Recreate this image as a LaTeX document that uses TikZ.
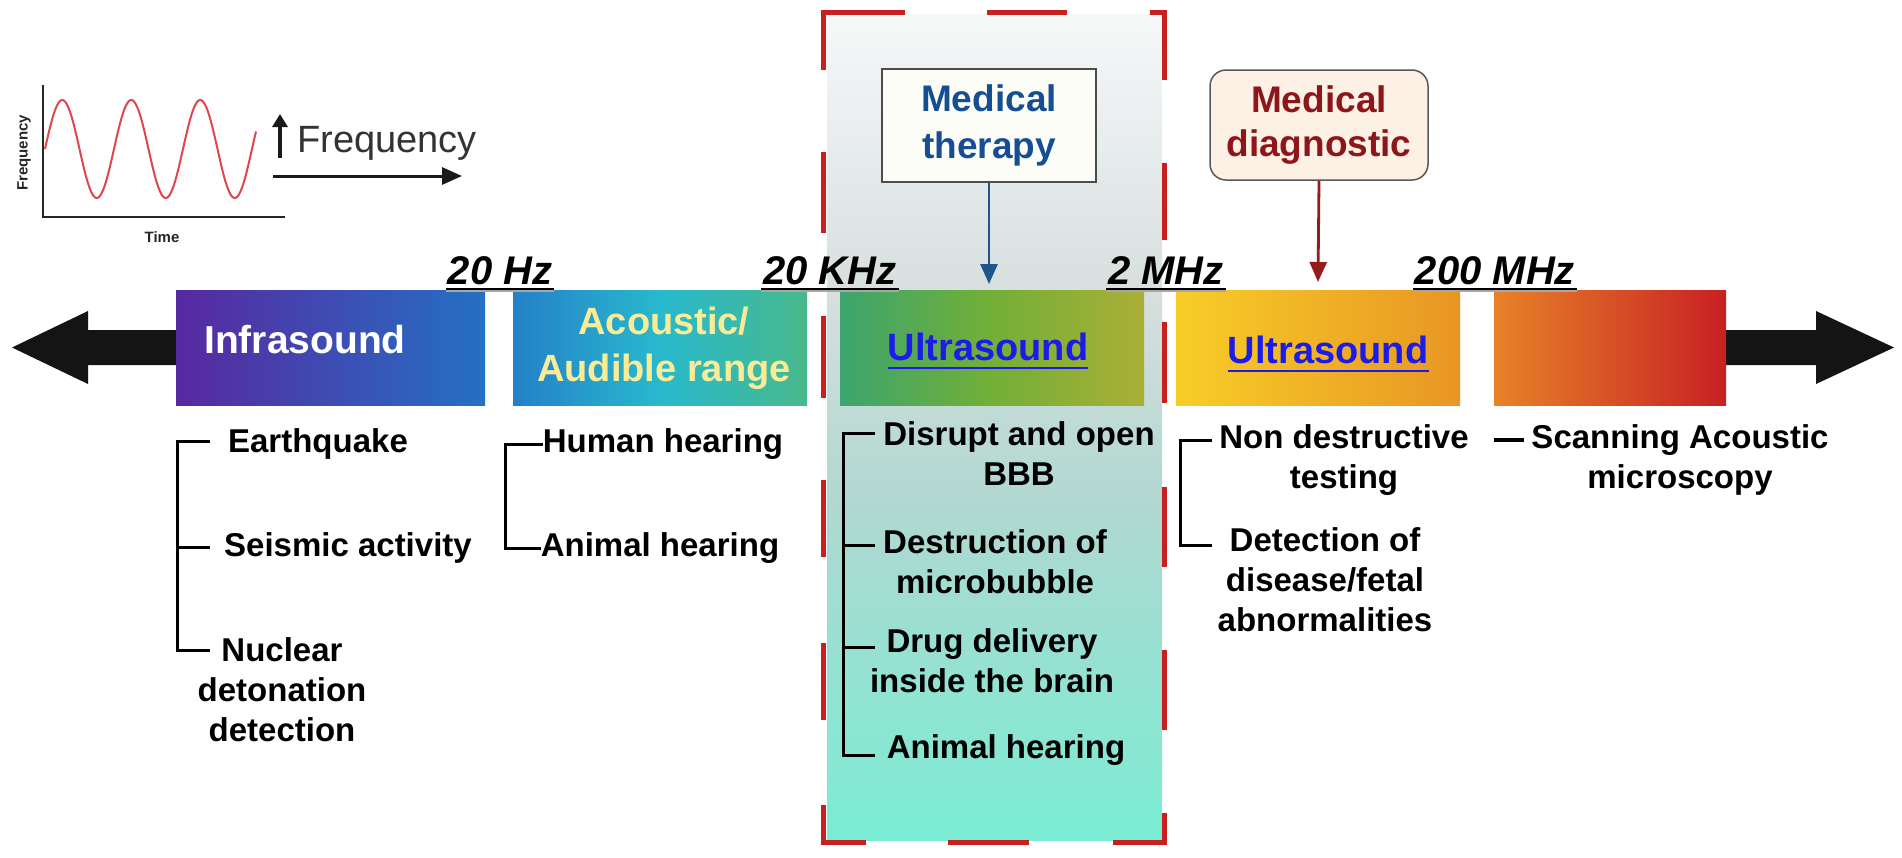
\documentclass[tikz,border=0pt]{standalone}
\usepackage{fontspec}
\setmainfont{Liberation Sans}
\usetikzlibrary{arrows.meta,calc}

\definecolor{infL}{RGB}{88,40,160}
\definecolor{infR}{RGB}{36,112,196}
\definecolor{acL}{RGB}{36,128,200}
\definecolor{acM}{RGB}{40,185,205}
\definecolor{acR}{RGB}{72,185,140}
\definecolor{usaL}{RGB}{60,165,110}
\definecolor{usaM}{RGB}{115,175,55}
\definecolor{usaR}{RGB}{170,175,55}
\definecolor{usbL}{RGB}{248,205,40}
\definecolor{usbR}{RGB}{232,150,35}
\definecolor{hfL}{RGB}{232,130,40}
\definecolor{hfR}{RGB}{200,32,35}
\definecolor{acyel}{RGB}{250,235,150}
\definecolor{linkblue}{RGB}{28,28,232}
\definecolor{thblue}{RGB}{22,78,148}
\definecolor{tharr}{RGB}{30,85,140}
\definecolor{thfill}{RGB}{253,253,247}
\definecolor{dgred}{RGB}{140,22,25}
\definecolor{dgarr}{RGB}{150,28,28}
\definecolor{dgfill}{RGB}{253,240,228}
\definecolor{dashred}{RGB}{200,32,30}
\definecolor{sinered}{RGB}{222,70,80}
\definecolor{ftop}{RGB}{246,248,248}
\definecolor{fmidb}{RGB}{214,222,222}
\definecolor{fmida}{RGB}{175,216,208}
\definecolor{fbot}{RGB}{122,236,212}

\begin{document}
\begin{tikzpicture}[x=1pt,y=-1pt,
  bar/.style={minimum height=115pt, inner sep=0pt, draw=none},
  barlbl/.style={font=\bfseries\fontsize{38}{47}\selectfont, align=center, inner sep=0pt},
  link/.style={font=\bfseries\fontsize{38}{46}\selectfont, text=linkblue, inner sep=0pt, text depth=0pt},
  linkline/.style={line width=2.5pt, draw=linkblue},
  body/.style={font=\bfseries\fontsize{33}{40}\selectfont, align=center, inner sep=0pt, text=black},
  brk/.style={line width=3pt, draw=black, line cap=butt},
  freqlbl/.style={font=\bfseries\itshape\fontsize{40}{40}\selectfont, inner xsep=2pt, inner ysep=4pt, text depth=0pt, anchor=south},
  uline/.style={line width=2.5pt, draw=black},
  ushadow/.style={line width=1.5pt, draw=black!35},
  reddash/.style={line width=5pt, draw=dashred, line join=miter},
  bigarrow/.style={fill=black!92},
  thbox/.style={draw=black!70, line width=1.5pt, fill=thfill, minimum width=214pt, minimum height=113pt, font=\bfseries\fontsize{37}{47}\selectfont, text=thblue, align=center, inner sep=0pt},
  dgbox/.style={draw=black!65, line width=1.5pt, fill=dgfill, rounded corners=16pt, minimum width=218pt, minimum height=110pt, font=\bfseries\fontsize{37}{44}\selectfont, text=dgred, align=center, inner sep=0pt},
  tharrow/.style={line width=2.8pt, draw=tharr, -{Triangle[length=20pt,width=17pt]}},
  dgarrow/.style={line width=2.8pt, draw=dgarr, -{Triangle[length=20pt,width=17pt]}},
  tiny/.style={font=\bfseries\fontsize{15}{15}\selectfont, inner sep=0pt, text=black!85}
]
\useasboundingbox (0,0) rectangle (1902,857);
\fill[white] (0,0) rectangle (1902,857);

% therapy region background
\shade[top color=ftop, bottom color=fmidb] (827,14) rectangle (1162,301);
\shade[top color=fmidb, bottom color=fmida] (827,300) rectangle (1162,511);
\shade[top color=fmida, bottom color=fbot] (827,510) rectangle (1162,840);

% small frequency graph
\draw[line width=2.2pt, black!85] (43,85) -- (43,217) -- (285,217);
\draw[line width=2pt, sinered, domain=45:256, samples=160, smooth] plot (\x, {149 - 49*sin(5.2174*(\x-45))});
\node[tiny, rotate=90] (gy) at (24,153) {Frequency};
\node[tiny] (gx) at (162,237) {Time};
\coordinate (upA) at (280,158);
\coordinate (upB) at (280,114);
\draw[line width=4pt, black!90, -{Triangle[length=13pt,width=15pt]}] (upA) -- (upB);
\node[font=\fontsize{38}{38}\selectfont, text=black!80, anchor=west, inner sep=0pt] (fq) at (297,143) {Frequency};
\coordinate (hA) at (273,176);
\coordinate (hB) at (462,176);
\draw[line width=3pt, black!90, -{Triangle[length=20pt,width=17pt]}] (hA) -- (hB);

% big arrows
\fill[bigarrow] (177,330) -- (88,330) -- (88,311) -- (12,347.5) -- (88,384) -- (88,365) -- (177,365) -- cycle;
\fill[bigarrow] (1725,330) -- (1816,330) -- (1816,311) -- (1894,347.5) -- (1816,384) -- (1816,365) -- (1725,365) -- cycle;

% bars
\node[bar, minimum width=309pt, left color=infL, right color=infR] (binf) at (330.5,347.5) {};
\node[bar, minimum width=294pt, left color=acL, right color=acR, middle color=acM] (bac) at (660,347.5) {};
\node[bar, minimum width=304pt, left color=usaL, right color=usaR, middle color=usaM] (busa) at (992,347.5) {};
\node[bar, minimum width=284pt, left color=usbL, right color=usbR] (busb) at (1318,347.5) {};
\node[bar, minimum width=232pt, left color=hfL, right color=hfR] (bhf) at (1610,347.5) {};

\node[barlbl, text=white, font=\bfseries\fontsize{39}{47}\selectfont] (tinf) at (305,340) {Infrasound};
\node[barlbl, text=acyel] (tac) at (664,348) {Acoustic/\\Audible range};
\node[link] (tusa) at (988,347) {Ultrasound};
\node[link] (tusb) at (1328,350) {Ultrasound};
\draw[linkline] ([yshift=-7pt]tusa.south west) -- ([yshift=-7pt]tusa.south east);
\draw[linkline] ([yshift=-7pt]tusb.south west) -- ([yshift=-7pt]tusb.south east);

% frequency limits
\node[freqlbl] (f1) at (500,289) {20 Hz};
\node[freqlbl] (f2) at (830,289) {20 KHz};
\node[freqlbl] (f3) at (1166,289) {2 MHz};
\node[freqlbl] (f4) at (1495,289) {200 MHz};
\foreach \f in {f1,f2,f3,f4}{
  \draw[ushadow] ([yshift=-2pt]\f.south west) -- ([yshift=-2pt]\f.south east);
  \draw[uline] (\f.south west) -- (\f.south east);
}

% red dashed frame
\draw[reddash] (823,70) -- (823,12) -- (905,12);
\draw[reddash] (987,12) -- (1067,12);
\draw[reddash] (1150,12) -- (1164,12) -- (1164,80);
\draw[reddash] (823,152) -- (823,233);
\draw[reddash] (823,316) -- (823,398);
\draw[reddash] (823,480) -- (823,557);
\draw[reddash] (823,643) -- (823,720);
\draw[reddash] (823,805) -- (823,842) -- (866,842);
\draw[reddash] (948,842) -- (1029,842);
\draw[reddash] (1113,842) -- (1164,842) -- (1164,813);
\draw[reddash] (1164,163) -- (1164,240);
\draw[reddash] (1164,322) -- (1164,403);
\draw[reddash] (1164,487) -- (1164,567);
\draw[reddash] (1164,650) -- (1164,730);

% medical boxes
\node[thbox] (mth) at (989,125.5) {Medical\\therapy};
\coordinate (mthT) at (989,284);
\draw[tharrow] (mth.south) -- (mthT);
\node[dgbox] (mdg) at (1319,125) {Medical\\diagnostic};
\coordinate (mdgT) at (1318,282);
\draw[dgarrow] (mdg.south) -- (mdgT);

% infrasound items
\node[body] (eq) at (318,444) {Earthquake};
\node[body] (se) at (348,548) {Seismic activity};
\node[body] (nu) at (282,690) {Nuclear\\detonation\\detection};
\coordinate (iS) at (177,0);
\coordinate (i1) at (210,441);
\coordinate (i2) at (210,547);
\coordinate (i3) at (210,650);
\draw[brk] (i1) -- (i1 -| iS) -- (i3 -| iS) -- (i3);
\draw[brk] (i2 -| iS) -- (i2);

% acoustic items
\node[body] (hh) at (663,444) {Human hearing};
\node[body] (ah) at (660,548) {Animal hearing};
\coordinate (aS) at (505,0);
\draw[brk] (hh.west) -- (hh.west -| aS) -- (ah.west -| aS) -- (ah.west);

% therapy items
\node[body] (d1) at (1019,454) {Disrupt and open\\BBB};
\node[body] (d2) at (995,562) {Destruction of\\microbubble};
\node[body] (d3) at (992,661) {Drug delivery\\inside the brain};
\node[body] (d4) at (1006,750) {Animal hearing};
\coordinate (tS) at (843,0);
\coordinate (t1) at (875,433);
\coordinate (t2) at (875,545);
\coordinate (t3) at (875,647);
\coordinate (t4) at (875,755);
\draw[brk] (t1) -- (t1 -| tS) -- (t4 -| tS) -- (t4);
\draw[brk] (t2 -| tS) -- (t2);
\draw[brk] (t3 -| tS) -- (t3);

% diagnostic items
\node[body] (nd) at (1344,460) {Non destructive\\testing};
\node[body] (dd) at (1325,580) {Detection of\\disease/fetal\\abnormalities};
\coordinate (gS) at (1180,0);
\coordinate (g1) at (1212,440);
\coordinate (g2) at (1212,545);
\draw[brk] (g1) -- (g1 -| gS) -- (g2 -| gS) -- (g2);

% high-frequency items
\node[body] (sc) at (1680,460) {Scanning Acoustic\\microscopy};
\coordinate (s1) at (1494,440);
\coordinate (s2) at (1524,440);
\draw[brk, line width=3.5pt] (s1) -- (s2);
\end{tikzpicture}
\end{document}
